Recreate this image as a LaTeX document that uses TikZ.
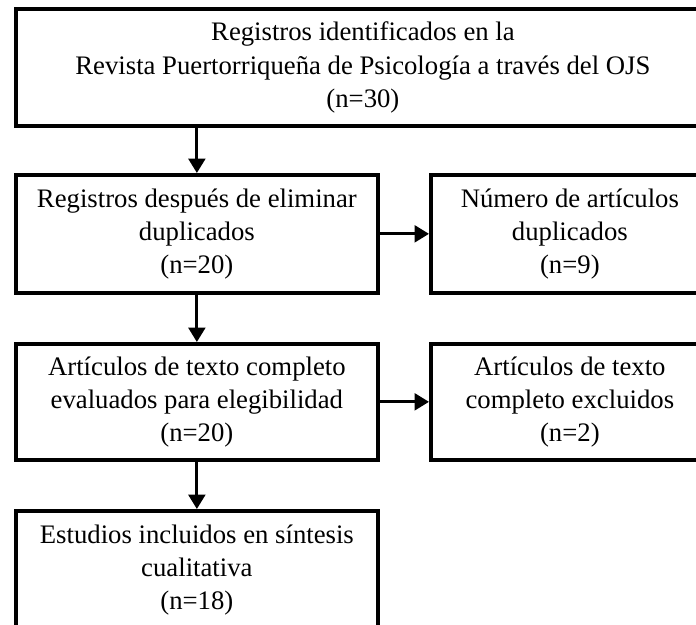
\documentclass[tikz,border=0pt]{standalone}
\usepackage{fontspec}
\setmainfont{Liberation Serif}
\usepackage{tikz}
\usetikzlibrary{arrows.meta}

\tikzset{
  box/.style={draw,line width=2.6pt,anchor=north west,fill=white,align=center,
    font=\fontsize{19pt}{23.5pt}\selectfont,minimum height=2.93cm},
  arr/.style={line width=2pt,-{Triangle[length=3.6mm,width=4.2mm]}}
}

\begin{document}
\begin{tikzpicture}[x=0.025cm,y=-0.025cm]
 \useasboundingbox (0,0) rectangle (696,624);
 \clip (0,0) rectangle (696,624);
 \node[box,minimum width=17.35cm] (ident) at (14,7) {Registros identificados en la\\Revista Puertorriqueña de Psicología a través del OJS\\(n=30)};
 \node[box,minimum width=9.05cm,minimum height=2.95cm] (dedup) at (14,173) {Registros después de eliminar\\duplicados\\(n=20)};
 \node[box,minimum width=6.95cm,minimum height=2.95cm] (dup) at (429,173) {Número de artículos\\duplicados\\(n=9)};
 \node[box,minimum width=9.05cm,minimum height=2.9cm] (elig) at (14,342) {Artículos de texto completo\\evaluados para elegibilidad\\(n=20)};
 \node[box,minimum width=6.95cm,minimum height=2.9cm] (excl) at (429,342) {Artículos de texto\\completo excluidos\\(n=2)};
 \node[box,minimum width=9.05cm,minimum height=2.95cm] (incl) at (14,509) {Estudios incluidos en síntesis\\cualitativa\\(n=18)};

 \draw[arr] (ident.south -| dedup.north) -- (dedup.north);
 \draw[arr] (dedup.east) -- (dup.west);
 \draw[arr] (dedup.south) -- (elig.north);
 \draw[arr] (elig.east) -- (excl.west);
 \draw[arr] (elig.south) -- (incl.north);
\end{tikzpicture}
\end{document}
